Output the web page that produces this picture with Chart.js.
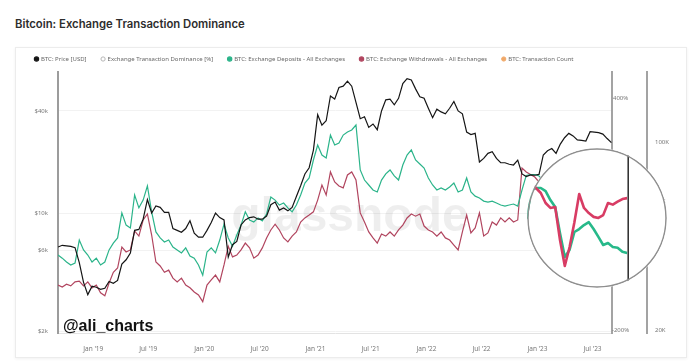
<!DOCTYPE html>
<html>
<head>
<meta charset="utf-8">
<script src="https://cdn.jsdelivr.net/npm/chart.js@4.4.0/dist/chart.umd.min.js"></script>
<style>
  html, body { margin: 0; padding: 0; background: #fff; }
  body { width: 700px; height: 362px; position: relative; overflow: hidden; font-family: 'Inter', 'Noto Sans', sans-serif; }
  #title { position: absolute; left: 15px; top: 17px; font-size: 11.3px; font-weight: 600; color: #2d2d2d; }
  #card { position: absolute; left: 15px; top: 47px; width: 670px; height: 309px; border: 1px solid #ececec; box-shadow: 0 1px 3px rgba(0,0,0,0.06); }
  #main { position: absolute; left: 15px; top: 41px; }
  #lens { position: absolute; left: 500px; top: 140px; background: #fff; clip-path: circle(70px at 97px 78px); }
</style>
</head>
<body>
<div id="title">Bitcoin: Exchange Transaction Dominance</div>
<div id="card"></div>
<canvas id="main" width="671" height="316"></canvas>
<canvas id="lens" width="180" height="160"></canvas>
<script>
// samples every 2 weeks, from 7 Sep 2018 to 1 Sep 2023
const startDate = Date.UTC(2018, 8, 7);
const stepDays = 14;

// BTC price, USD
const price = [
  6300, 6450, 6400, 6350, 6250, 5100, 3900, 3300, 3700, 3650,
  3550, 3600, 3950, 3850, 4000, 5000, 5300, 5800, 7900, 8000,
  9200, 12000, 10000, 11000, 10800, 10100, 10100, 8100, 7900, 7700,
  8100, 9000, 7600, 7200, 7200, 7900, 8800, 10000, 9400, 9100,
  5500, 6500, 6800, 8500, 9100, 9400, 9500, 9200, 9200, 9600,
  11200, 11600, 10400, 10700, 10300, 10800, 12500, 14500, 17000, 18500,
  23500, 38000, 33000, 35000, 49000, 47000, 55000, 56000, 60000, 56000,
  45000, 36000, 37000, 32000, 33500, 31000, 40000, 46500, 47000, 43500,
  47500, 58000, 62000, 61000, 54000, 48500, 47500, 41500, 36500, 41000,
  39500, 38500, 41500, 45500, 40000, 38500, 30000, 29000, 29500, 20000,
  21000, 22500, 23000, 21000, 19800, 19800, 19400, 19200, 20500, 17000,
  16400, 16800, 16700, 16900, 22000, 23300, 24000, 22500, 25500, 27800,
  29500, 28500, 27000, 26800, 26600, 30200, 30000, 29800, 29200, 27500,
  26000
];

// exchange deposits, thousands
const deposits = [
  38.0, 37.0, 35.8, 34.9, 35.5, 43.2, 39.7, 38.0, 35.8, 37.0,
  34.9, 35.8, 39.7, 42.1, 44.0, 54.5, 49.1, 47.9, 63.5, 56.9,
  60.8, 68.6, 55.0, 46.3, 44.0, 42.5, 43.2, 40.7, 39.7, 38.7,
  40.4, 37.7, 37.0, 34.9, 32.0, 39.0, 40.4, 38.7, 43.2, 49.5,
  44.0, 41.0, 45.1, 49.1, 55.0, 51.3, 50.4, 52.2, 50.9, 54.0,
  62.4, 60.8, 58.3, 59.3, 56.9, 55.0, 58.3, 63.5, 70.4, 73.5,
  85.7, 97.4, 89.4, 87.2, 106.1, 97.4, 99.1, 106.1, 108.9, 110.8,
  115.6, 78.7, 72.2, 69.2, 66.3, 65.2, 72.2, 76.1, 78.7, 74.8,
  72.2, 82.1, 89.4, 93.4, 85.7, 82.8, 80.0, 73.5, 69.2, 66.3,
  67.5, 66.3, 68.0, 70.4, 65.2, 66.3, 73.5, 65.2, 62.9, 61.9,
  60.3, 59.8, 60.3, 59.3, 58.3, 57.8, 58.3, 58.8, 57.8, 66.3,
  75.1, 75.7, 75.7, 74.7, 71.9, 69.8, 62.4, 56.3, 58.1, 62.7,
  63.5, 64.6, 65.4, 63.5, 61.4, 59.3, 59.8, 58.8, 58.6, 57.6,
  57.3
];

// exchange withdrawals, thousands
const withdrawals = [
  29.4, 28.9, 29.6, 29.2, 30.2, 30.4, 29.2, 30.2, 28.7, 29.4,
  27.5, 26.8, 29.9, 32.8, 34.0, 40.7, 39.0, 39.7, 46.7, 44.7,
  51.3, 54.0, 45.1, 35.8, 34.6, 32.8, 33.4, 31.2, 30.2, 31.2,
  29.4, 28.7, 27.7, 27.0, 25.5, 29.4, 30.7, 32.0, 30.2, 34.9,
  41.0, 37.4, 38.0, 39.7, 42.1, 40.4, 37.0, 38.0, 40.4, 44.0,
  47.1, 49.5, 47.1, 44.0, 42.5, 44.7, 46.3, 50.4, 52.2, 53.5,
  55.0, 60.8, 69.2, 63.5, 77.4, 71.0, 68.6, 67.5, 75.4, 77.4,
  72.2, 54.5, 50.4, 46.3, 44.0, 42.1, 45.5, 44.7, 46.3, 44.7,
  47.1, 49.1, 52.2, 54.0, 53.0, 54.0, 48.7, 47.1, 46.3, 44.7,
  46.3, 44.0, 43.2, 41.4, 39.7, 46.3, 53.5, 45.9, 47.9, 54.5,
  44.7, 45.9, 50.4, 49.1, 52.2, 50.4, 52.2, 50.4, 51.3, 80.0,
  77.4, 75.7, 74.1, 71.0, 69.5, 69.8, 60.6, 54.2, 58.8, 65.4,
  73.8, 69.5, 68.0, 66.9, 66.6, 67.4, 71.0, 70.5, 71.4, 72.2,
  72.5
];

const tickDates = [
  Date.UTC(2019, 0, 1), Date.UTC(2019, 6, 1), Date.UTC(2020, 0, 1), Date.UTC(2020, 6, 1),
  Date.UTC(2021, 0, 1), Date.UTC(2021, 6, 1), Date.UTC(2022, 0, 1), Date.UTC(2022, 6, 1),
  Date.UTC(2023, 0, 1), Date.UTC(2023, 6, 1)
];
const tickLabels = ["Jan '19", "Jul '19", "Jan '20", "Jul '20", "Jan '21", "Jul '21", "Jan '22", "Jul '22", "Jan '23", "Jul '23"];
const priceTicks = [2000, 6000, 10000, 40000];
const pctTicks = [400, 200, 0, -200];
const cntTicks = [20, 60, 100];

// the lens zooms on the last part of deposits / withdrawals
const lensFrom = 109;

const dates = price.map((_, i) => startDate + i * stepDays * 864e5);
const xy = arr => arr.map((v, i) => ({ x: dates[i], y: v }));

const tickFont = { size: 6, family: "'Noto Sans', sans-serif" };

const marks = {
  id: 'marks',
  beforeDatasetsDraw(chart) {
    const { ctx, chartArea } = chart;
    ctx.save();
    ctx.font = "bold 48px 'Liberation Sans', sans-serif";
    ctx.fillStyle = 'rgba(0,0,0,0.065)';
    ctx.textAlign = 'center';
    ctx.fillText('glassnode', chartArea.left + 292, chartArea.top + 146);
    ctx.restore();
  },
  afterDatasetsDraw(chart) {
    const { ctx, chartArea } = chart;
    ctx.save();
    ctx.font = "bold 16px 'Liberation Sans', sans-serif";
    ctx.fillStyle = '#111';
    ctx.fillText('@ali_charts', chartArea.left + 5, chartArea.bottom - 6);
    ctx.restore();
  }
};

new Chart(document.getElementById('main'), {
  type: 'line',
  data: {
    datasets: [
      { label: 'BTC: Price [USD]', data: xy(price), yAxisID: 'price', borderColor: '#151515', backgroundColor: '#151515', borderWidth: 1.2 },
      { label: 'Exchange Transaction Dominance [%]', data: [], yAxisID: 'pct', borderColor: '#b5b5b5', backgroundColor: '#ffffff', borderWidth: 1 },
      { label: 'BTC: Exchange Deposits - All Exchanges', data: xy(deposits), yAxisID: 'cnt', borderColor: '#2bb48a', backgroundColor: '#2bb48a', borderWidth: 1.2 },
      { label: 'BTC: Exchange Withdrawals - All Exchanges', data: xy(withdrawals), yAxisID: 'cnt', borderColor: '#b1455f', backgroundColor: '#b1455f', borderWidth: 1.2 },
      { label: 'BTC: Transaction Count', data: [], yAxisID: 'cnt', borderColor: '#f0a868', backgroundColor: '#f0a868', borderWidth: 1 }
    ]
  },
  options: {
    responsive: false,
    animation: false,
    devicePixelRatio: 1,
    elements: { point: { radius: 0 }, line: { tension: 0 } },
    layout: { padding: { left: 5, right: 10, top: 0, bottom: 0 } },
    plugins: {
      legend: {
        align: 'start',
        labels: { usePointStyle: true, pointStyle: 'circle', boxWidth: 3, boxHeight: 3, padding: 15, color: '#666', font: tickFont }
      },
      tooltip: { enabled: false }
    },
    scales: {
      x: {
        type: 'linear',
        min: dates[0],
        max: dates[dates.length - 1] + 2 * 864e5,
        afterBuildTicks: s => { s.ticks = tickDates.map(v => ({ value: v })); },
        afterFit: s => { s.height = 24; },
        ticks: { autoSkip: false, maxRotation: 0, padding: 12, color: '#777', font: { size: 6.5, family: "'Noto Sans', sans-serif" }, callback: (v, i) => tickLabels[i] },
        grid: { display: false, drawTicks: false },
        border: { color: '#e3e3e3', width: 1 }
      },
      price: {
        type: 'logarithmic',
        position: 'left',
        min: 1960,
        max: 67900,
        afterBuildTicks: s => { s.ticks = priceTicks.map(v => ({ value: v })); },
        afterFit: s => { s.width = 38; },
        ticks: { padding: 10, color: '#777', font: tickFont, callback: v => '$' + v / 1000 + 'k' },
        grid: { color: '#f2f2f2', drawTicks: false },
        border: { color: '#9c9c9c', width: 2 }
      },
      pct: {
        type: 'linear',
        position: 'right',
        weight: 0,
        min: -208,
        max: 467,
        afterBuildTicks: s => { s.ticks = pctTicks.map(v => ({ value: v })); },
        afterFit: s => { s.width = 35; },
        ticks: { padding: 0, crossAlign: 'center', color: '#777', font: tickFont, callback: v => v + '%' },
        grid: { display: false, drawTicks: false },
        border: { color: '#a3a3a3', width: 2 }
      },
      cnt: {
        type: 'logarithmic',
        position: 'right',
        weight: 1,
        min: 19.5,
        max: 182,
        afterBuildTicks: s => { s.ticks = cntTicks.map(v => ({ value: v })); },
        afterFit: s => { s.width = 29; },
        ticks: { padding: 8, color: '#777', font: tickFont, callback: v => v + 'K' },
        grid: { display: false, drawTicks: false },
        border: { color: '#a3a3a3', width: 2 }
      }
    }
  },
  plugins: [marks]
});

// magnifier: frame + right edge of the zoomed plot
const lensFrame = {
  id: 'lensFrame',
  afterDraw(chart) {
    const { ctx, chartArea } = chart;
    ctx.save();
    ctx.strokeStyle = '#2a2a2a';
    ctx.lineWidth = 1.5;
    ctx.beginPath();
    ctx.moveTo(chartArea.right + 1, 0);
    ctx.lineTo(chartArea.right + 1, chart.height);
    ctx.stroke();
    ctx.strokeStyle = '#8f8f8f';
    ctx.lineWidth = 1.5;
    ctx.beginPath();
    ctx.arc(97, 78, 69, 0, Math.PI * 2);
    ctx.stroke();
    ctx.restore();
  }
};

new Chart(document.getElementById('lens'), {
  type: 'line',
  data: {
    datasets: [
      { data: xy(withdrawals).slice(lensFrom), borderColor: '#d83c64', borderWidth: 2.6, borderJoinStyle: 'round' },
      { data: xy(deposits).slice(lensFrom), borderColor: '#27b98a', borderWidth: 2.6, borderJoinStyle: 'round' }
    ]
  },
  options: {
    responsive: false,
    animation: false,
    devicePixelRatio: 1,
    elements: { point: { radius: 0 }, line: { tension: 0 } },
    layout: { padding: { left: 26.4, right: 52.8, top: 10, bottom: 10 } },
    plugins: { legend: { display: false }, tooltip: { enabled: false } },
    scales: {
      x: { type: 'linear', display: false, min: dates[lensFrom], max: dates[dates.length - 1] },
      y: { type: 'logarithmic', display: false, min: 48.9, max: 89.1 }
    }
  },
  plugins: [lensFrame]
});
</script>
</body>
</html>
